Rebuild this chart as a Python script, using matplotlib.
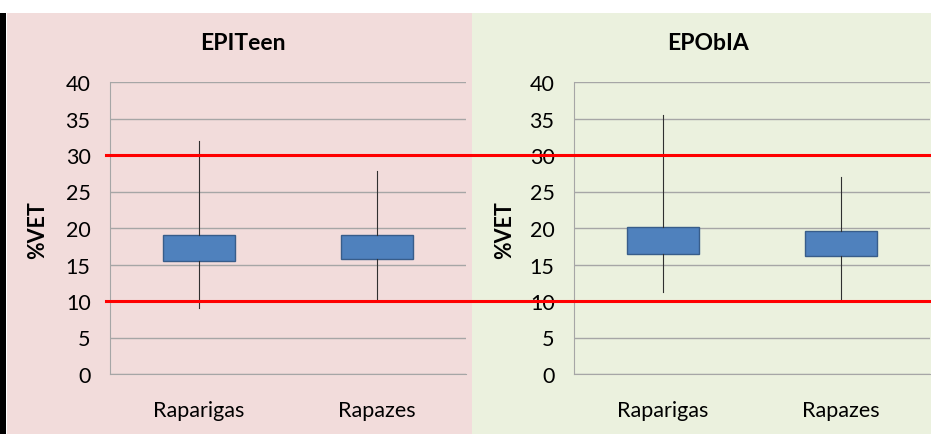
import matplotlib as mpl
mpl.use('Agg')
from matplotlib import pyplot as plt
from matplotlib import transforms
from matplotlib.patches import Rectangle

plt.rcParams['font.family'] = ['Lato', 'DejaVu Sans']

# dados (%VET)
studies = ['EPITeen', 'EPObIA']
groups = ['Raparigas', 'Rapazes']
whisker_low = [[9.0, 10.0], [11.2, 10.0]]
box_low = [[15.5, 15.7], [16.5, 16.2]]
box_high = [[19.0, 19.0], [20.2, 19.6]]
whisker_high = [[31.9, 27.8], [35.5, 27.0]]
ref_lines = [30, 10]

panel_colors = ['#F2DCDB', '#EBF1DE']
box_color = '#4F81BD'
box_edge = '#385D8A'
grid_color = '#A6A6A6'

W, H = 931, 435
fig = plt.figure(figsize=(W / 100, H / 100), dpi=100)
fig.patch.set_facecolor('white')

# fundos dos painéis (em pixels)
panels = [(7, 472), (472, 931)]
for (x0, x1), c in zip(panels, panel_colors):
    fig.patches.append(Rectangle((x0 / W, 0), (x1 - x0) / W, (H - 14) / H,
                                 transform=fig.transFigure, facecolor=c,
                                 edgecolor='none', zorder=-10))
fig.patches.append(Rectangle((0, 0), 6 / W, (H - 14) / H, transform=fig.transFigure,
                             facecolor='black', edgecolor='none', zorder=-9))

ax_left = [110, 574]
ax_w = 356
ax_top, ax_bot = 83, 375
title_x = [243, 708]
ylabel_x = [38, 505]

axes = []
for i, name in enumerate(studies):
    ax = fig.add_axes([ax_left[i] / W, (H - ax_bot) / H, ax_w / W, (ax_bot - ax_top) / H])
    ax.set_facecolor('none')
    stats = []
    for j, g in enumerate(groups):
        stats.append({
            'label': g,
            'whislo': whisker_low[i][j],
            'q1': box_low[i][j],
            'med': box_low[i][j],
            'q3': box_high[i][j],
            'whishi': whisker_high[i][j],
            'fliers': [],
        })
    ax.bxp(stats, positions=[1, 2], widths=0.4, patch_artist=True, showcaps=False,
           showfliers=False,
           boxprops=dict(facecolor=box_color, edgecolor=box_edge, linewidth=1),
           whiskerprops=dict(color='#303030', linewidth=0.8),
           medianprops=dict(visible=False))
    ax.set_xlim(0.5, 2.5)
    ax.set_ylim(0, 40)
    ax.set_yticks(range(0, 41, 5))
    ax.yaxis.grid(True, color=grid_color, linewidth=1)
    ax.set_axisbelow(True)
    for s in ['top', 'right']:
        ax.spines[s].set_visible(False)
    for s in ['left', 'bottom']:
        ax.spines[s].set_color(grid_color)
    ax.tick_params(axis='both', length=0, labelsize=15.5, colors='black')
    ax.tick_params(axis='y', pad=14)
    ax.tick_params(axis='x', pad=19)
    ax.set_xticks([1, 2])
    ax.set_xticklabels(groups)
    fig.text(title_x[i] / W, 1 - 43 / H, name, ha='center', va='center',
             fontsize=16.5, fontweight='bold')
    fig.text(ylabel_x[i] / W, 1 - 230 / H, '%VET', ha='center', va='center',
             rotation=90, fontsize=15.5, fontweight='bold')
    axes.append(ax)

# linhas de referência vermelhas atravessam os dois painéis
trans = transforms.blended_transform_factory(fig.transFigure, axes[0].transData)
for y in ref_lines:
    fig.add_artist(plt.Line2D([106 / W, 1], [y, y], transform=trans,
                              color='#FF0000', linewidth=2.2, zorder=5))

fig.savefig('out.png', dpi=100)
